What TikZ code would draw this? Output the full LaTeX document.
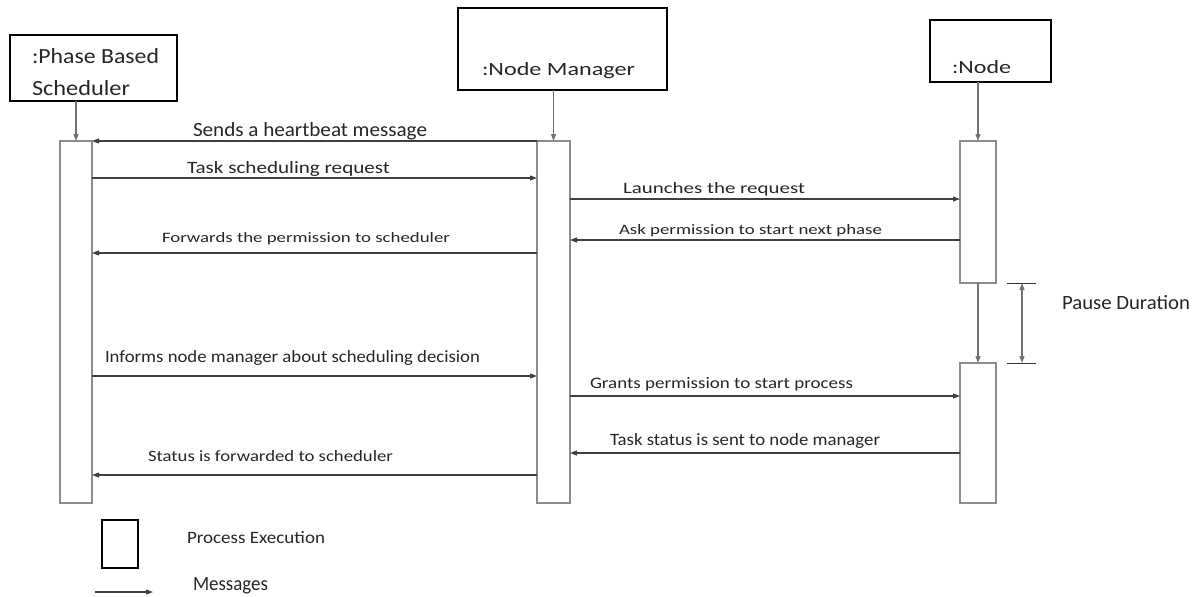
\documentclass[tikz,border=0pt]{standalone}
\usepackage{fontspec}
\setmainfont{Carlito}
\usetikzlibrary{arrows.meta}
% scaled label: width, height above baseline, text
\newcommand\fitlbl[3]{\resizebox{#1pt}{#2pt}{#3}}
\begin{document}
\begin{tikzpicture}[x=1pt,y=-1pt,
  headbox/.style={draw=black,line width=2.6pt,inner sep=0pt,outer sep=0pt,anchor=north west},
  actbox/.style={draw=black!45,line width=1.3pt,inner sep=0pt,outer sep=0pt,anchor=north west,minimum width=#1},
  msg/.style={draw=black!75,line width=1.1pt,-{Triangle[length=7pt,width=5pt]}},
  life/.style={draw=black!55,line width=1.1pt,-{Triangle[length=7pt,width=5pt]}},
  lbl/.style={anchor=base west,inner sep=0pt,outer sep=0pt,text=black!85}]
\useasboundingbox (0,0) rectangle (1197,597);

% object headers
\node[headbox,minimum width=167pt,minimum height=66pt] (sched) at (10,35) {};
\node[headbox,minimum width=209pt,minimum height=82pt] (mgr) at (458,8) {};
\node[headbox,minimum width=121pt,minimum height=62pt] (node) at (930,20) {};
\node[lbl] (schedA) at (32,63) {\fitlbl{127}{15}{:Phase Based}};
\node[lbl] (schedB) at (32,95) {\fitlbl{98}{15}{Scheduler}};
\node[lbl] (mgrT) at (482,75) {\fitlbl{153}{13}{:Node Manager}};
\node[lbl] (nodeT) at (952,73) {\fitlbl{59}{13}{:Node}};

% activation bars
\node[actbox=32pt,minimum height=362pt] (act1) at (60,141) {};
\node[actbox=33pt,minimum height=362pt] (act2) at (537,141) {};
\node[actbox=36pt,minimum height=142pt] (act3a) at (960,141) {};
\node[actbox=36pt,minimum height=140pt] (act3b) at (960,363) {};

% lifelines
\draw[life] (act1.north |- sched.south) -- (act1.north);
\draw[life] (act2.north |- mgr.south) -- (act2.north);
\draw[life] (act3a.north |- node.south) -- (act3a.north);
\draw[life] (act3a.south) -- (act3b.north);

% message rows
\coordinate (r1) at (0,141);
\coordinate (r2) at (0,178);
\coordinate (r3) at (0,199);
\coordinate (r4) at (0,240);
\coordinate (r5) at (0,253);
\coordinate (r6) at (0,376);
\coordinate (r7) at (0,396);
\coordinate (r8) at (0,453);
\coordinate (r9) at (0,475);

\draw[msg] (act2.west |- r1) -- (act1.east |- r1);
\draw[msg] (act1.east |- r2) -- (act2.west |- r2);
\draw[msg] (act2.east |- r3) -- (act3a.west |- r3);
\draw[msg] (act3a.west |- r4) -- (act2.east |- r4);
\draw[msg] (act2.west |- r5) -- (act1.east |- r5);
\draw[msg] (act1.east |- r6) -- (act2.west |- r6);
\draw[msg] (act2.east |- r7) -- (act3b.west |- r7);
\draw[msg] (act3b.west |- r8) -- (act2.east |- r8);
\draw[msg] (act2.west |- r9) -- (act1.east |- r9);

% message labels
\node[lbl] (m1) at (193,136) {\fitlbl{234}{14}{Sends a heartbeat  message}};
\node[lbl] (m2) at (187,173) {\fitlbl{203}{12}{Task scheduling request}};
\node[lbl] (m3) at (623,193) {\fitlbl{182}{11}{Launches the request}};
\node[lbl] (m4) at (619,234) {\fitlbl{263}{10}{Ask permission to start next phase}};
\node[lbl] (m5) at (162,242) {\fitlbl{288}{10}{Forwards the permission to scheduler}};
\node[lbl] (m6) at (105,362) {\fitlbl{375}{12}{Informs node manager about scheduling decision}};
\node[lbl] (m7) at (590,388) {\fitlbl{263}{11}{Grants permission to start process}};
\node[lbl] (m8) at (610,445) {\fitlbl{270}{12}{Task status is sent to node manager}};
\node[lbl] (m9) at (148,461) {\fitlbl{245}{11}{Status is forwarded to scheduler}};

% pause duration marker
\coordinate (pt) at (1007,283);
\coordinate (pb) at (1007,363);
\coordinate (ptE) at (1036,283);
\coordinate (pbE) at (1036,363);
\draw[black!80,line width=1pt] (pt) -- (ptE);
\draw[black!80,line width=1pt] (pb) -- (pbE);
\coordinate (pa) at (1022,283);
\coordinate (pz) at (1022,363);
\draw[life,{Triangle[length=7pt,width=5pt]}-{Triangle[length=7pt,width=5pt]}] (pa) -- (pz);
\node[lbl] (pause) at (1062,309) {\fitlbl{128}{14}{Pause Duration}};

% legend
\node[headbox,line width=2pt,minimum width=36pt,minimum height=48pt] (legbox) at (102,520) {};
\node[lbl] (legbox t) at (187,543) {\fitlbl{138}{12}{Process Execution}};
\coordinate (la) at (95,592);
\coordinate (lb) at (153,592);
\draw[msg] (la) -- (lb);
\node[lbl] (legmsg t) at (193,590) {\fitlbl{75}{13}{Messages}};
\end{tikzpicture}
\end{document}
